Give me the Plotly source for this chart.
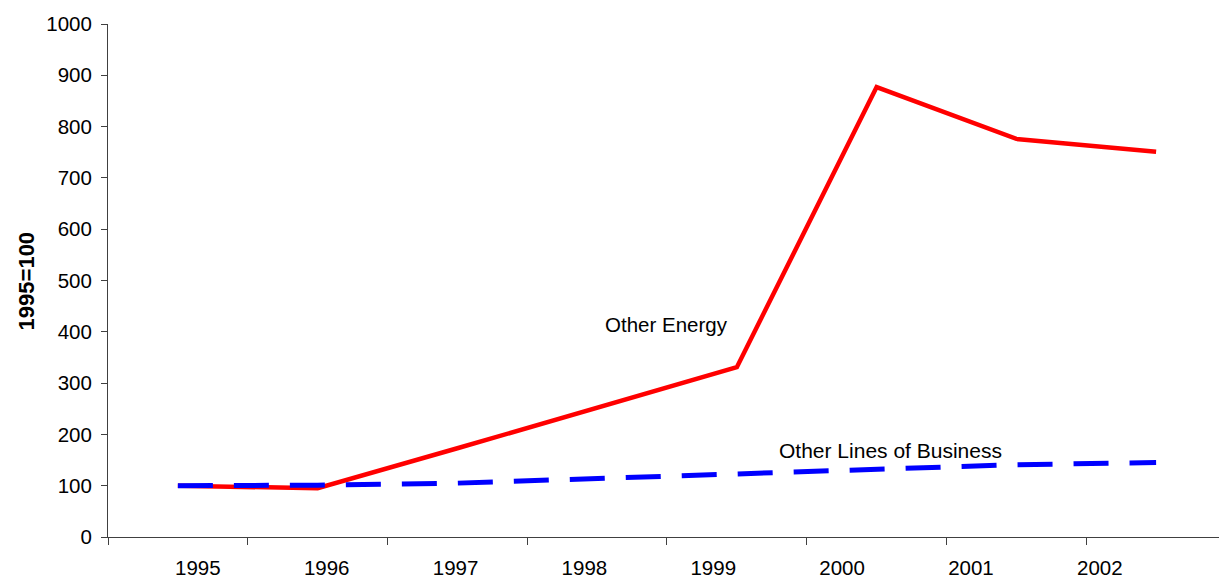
import plotly.graph_objects as go

# Index values, 1995 = 100
years = ["1995", "1996", "1997", "1998", "1999", "2000", "2001", "2002"]
other_energy = [100, 95, 173, 252, 331, 877, 776, 751]
other_business = [100, 101, 105, 114, 122, 132, 141, 145]

y_ticks = [0, 100, 200, 300, 400, 500, 600, 700, 800, 900, 1000]

FONT = "Arial, Liberation Sans, sans-serif"
AXIS_COLOR = "#404040"

# Year labels sit on a slightly tighter pitch than the category slots
label_start, label_step = 0.143, 0.922
label_pos = [label_start + label_step * i for i in range(len(years))]

fig = go.Figure()

fig.add_trace(go.Scatter(
    x=years, y=other_energy, mode="lines",
    line=dict(color="#FF0000", width=4.5),
    name="Other Energy", showlegend=False,
))
fig.add_trace(go.Scatter(
    x=years, y=other_business, mode="lines",
    line=dict(color="#0000FF", width=5, dash="35px,21px"),
    name="Other Lines of Business", showlegend=False,
))

fig.add_annotation(x=3.5, y=415, xref="x", yref="y", text="Other Energy",
                   showarrow=False, font=dict(family=FONT, size=20.5, color="black"))
fig.add_annotation(x=5.1, y=168, xref="x", yref="y", text="Other Lines of Business",
                   showarrow=False, font=dict(family=FONT, size=21, color="black"))

fig.add_annotation(x=-0.073, y=0.5, xref="paper", yref="paper", text="<b>1995=100</b>",
                   textangle=-90, showarrow=False, xanchor="center", yanchor="middle",
                   font=dict(family=FONT, size=22, color="black"))

fig.update_layout(
    width=1219, height=579,
    margin=dict(l=108, r=0, t=24, b=42),
    paper_bgcolor="white", plot_bgcolor="white",
    font=dict(family=FONT, size=20, color="black"),
    xaxis=dict(
        type="category", range=[-0.5, 7.45],
        showline=True, linecolor=AXIS_COLOR, linewidth=1,
        ticks="outside", ticklen=7, tickcolor=AXIS_COLOR, tickson="boundaries",
        showticklabels=False, showgrid=False, zeroline=False,
    ),
    xaxis2=dict(
        overlaying="x", range=[-0.5, 7.45], side="bottom",
        tickmode="array", tickvals=label_pos, ticktext=years,
        ticks="", showline=False, showgrid=False, zeroline=False,
        ticklabelstandoff=16,
        tickfont=dict(family=FONT, size=20.5, color="black"),
    ),
    yaxis=dict(
        range=[0, 1000], tickmode="array", tickvals=y_ticks,
        showline=True, linecolor=AXIS_COLOR, linewidth=1,
        ticks="outside", ticklen=6, tickcolor=AXIS_COLOR,
        ticklabelstandoff=5,
        showgrid=False, zeroline=False,
        tickfont=dict(family=FONT, size=20.5, color="black"),
    ),
)

# Invisible trace to activate the label axis
fig.add_trace(go.Scatter(x=[label_pos[0]], y=[None], xaxis="x2", mode="markers",
                         showlegend=False, hoverinfo="skip"))

fig.write_html("out.html")
